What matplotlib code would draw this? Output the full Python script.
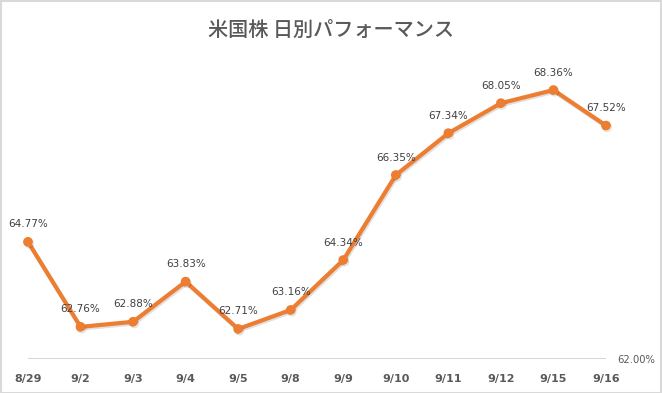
import matplotlib
matplotlib.use('agg')
from matplotlib import pyplot as plt
from matplotlib import patheffects as pe
from matplotlib.patches import Rectangle

# Chart data
dates = ['8/29', '9/2', '9/3', '9/4', '9/5', '9/8', '9/9',
         '9/10', '9/11', '9/12', '9/15', '9/16']
perf = [64.77, 62.76, 62.88, 63.83, 62.71, 63.16, 64.34,
        66.35, 67.34, 68.05, 68.36, 67.52]
title = '米国株 日別パフォーマンス'

plt.rcParams['font.family'] = ['Noto Sans CJK JP', 'DejaVu Sans']

W, H = 662, 393
fig = plt.figure(figsize=(W / 100, H / 100), dpi=100)
ax = fig.add_axes([28 / W, 34 / H, 578 / W, 296 / H])

orange = '#ED7D31'
x = list(range(len(dates)))
line, = ax.plot(x, perf, color=orange, linewidth=3, marker='o', markersize=6,
                solid_joinstyle='round', zorder=3, clip_on=False)
line.set_path_effects([pe.SimpleLineShadow(offset=(0.8, -1.2), alpha=0.12),
                       pe.Normal()])

# data labels above each point
for xi, v in zip(x, perf):
    ax.annotate(f'{v:.2f}%', (xi, v), xytext=(0, 9), textcoords='offset points',
                ha='center', va='bottom', fontsize=7.5, color='#404040',
                family='DejaVu Sans')

ax.set_xlim(0, len(dates) - 1)
ax.set_ylim(62, 69)
ax.set_xticks(x)
ax.set_xticklabels(dates, fontsize=8, color='#595959', fontweight='bold',
                   family='DejaVu Sans')
ax.tick_params(axis='x', length=0, pad=11)

ax.yaxis.tick_right()
ax.set_yticks([62])
ax.set_yticklabels(['62.00%'], fontsize=7.2, color='#595959', family='DejaVu Sans')
ax.tick_params(axis='y', length=0, pad=8)
ax.axhline(62, color='#D0D0D0', linewidth=1.2, zorder=1)

for s in ax.spines.values():
    s.set_visible(False)

fig.text(0.5, 1 - 30 / H, title, ha='center', va='center', fontsize=14.5,
         color='#595959', fontweight='medium')

# outer chart border
fig.patches.append(Rectangle((0.5 / W, 0.5 / H), 1 - 1.5 / W, 1 - 1.5 / H,
                             transform=fig.transFigure, fill=False,
                             edgecolor='#D9D9D9', linewidth=1.5))

plt.savefig('out.png', dpi=100)
